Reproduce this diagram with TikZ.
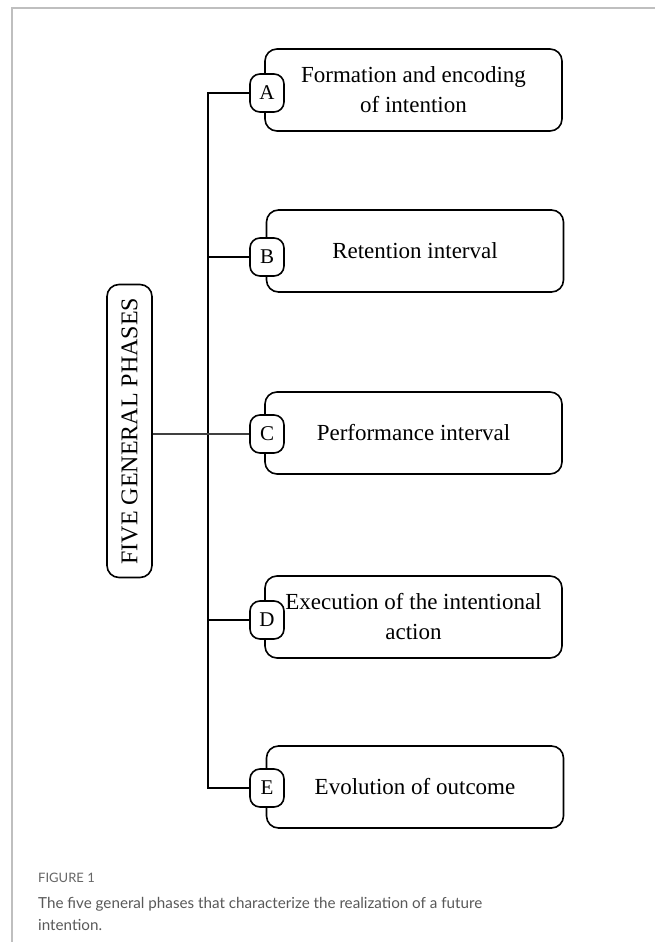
\documentclass[tikz,border=0pt]{standalone}
\usepackage{fontspec}
\setmainfont{Liberation Serif}
\newfontfamily\capfont{Lato}
\begin{document}
\begin{tikzpicture}[x=1pt,y=-1pt,
  phase/.style={draw=black,line width=1.6pt,rounded corners=12pt,minimum width=297pt,minimum height=82pt,inner sep=0pt,font=\fontsize{23}{30}\selectfont,align=center},
  letter/.style={draw=black,fill=white,line width=1.6pt,rounded corners=10pt,minimum width=34pt,minimum height=38pt,inner sep=0pt,font=\fontsize{21}{22}\selectfont},
  conn/.style={line width=1.5pt,black},
  title/.style={draw=black,line width=1.6pt,rounded corners=12pt,minimum width=45pt,minimum height=293pt,inner sep=0pt}]
\useasboundingbox (0,0) rectangle (655,942);
\fill[white] (0,0) rectangle (655,942);
% frame
\draw[line width=1.5pt,black!25] (12,942) -- (12,8) -- (655,8);
% phase boxes
\node[phase] (pa) at (413.5,90) {Formation and encoding\\of intention};
\node[phase] (pb) at (415,251) {Retention interval};
\node[phase] (pc) at (413.5,433) {Performance interval};
\node[phase] (pd) at (413.5,617) {Execution of the intentional\\action};
\node[phase] (pe) at (415,787) {Evolution of outcome};
% letters
\node[letter] (la) at (267,93) {A};
\node[letter] (lb) at (267,257) {B};
\node[letter] (lc) at (267,434) {C};
\node[letter] (ld) at (267,620) {D};
\node[letter] (le) at (267,788) {E};
% title box
\node[title] (t) at (129.5,431) {};
\node[rotate=90,font=\fontsize{24}{26}\selectfont] at (t.center) {FIVE GENERAL PHASES};
% trunk
\coordinate (ta) at (208,93);
\coordinate (te) at (208,788);
\draw[conn] (la.west) -- (ta) -- (te) -- (le.west);
\draw[conn] (lb.west) -- (lb.west -| ta);
\draw[conn] (ld.west) -- (ld.west -| ta);
\draw[line width=1.1pt,black!75] (t.east |- lc.west) -- (lc.west);
% caption
\node[anchor=west,font=\capfont\fontsize{13}{14}\selectfont,text=black!60,inner sep=0pt] (fig) at (38,878) {FIGURE 1};
\node[anchor=north west,align=left,font=\capfont\fontsize{15.2}{22}\selectfont,text=black!65,inner sep=0pt] (cap) at (38,897) {The five general phases that characterize the realization of a future\\intention.};
\end{tikzpicture}
\end{document}
